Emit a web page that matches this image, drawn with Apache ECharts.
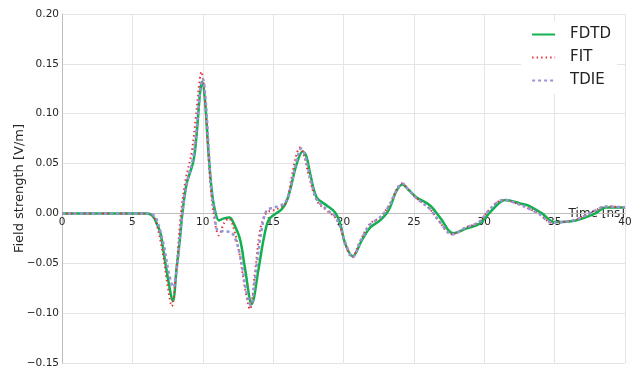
<!DOCTYPE html>
<html>
<head>
<meta charset="utf-8">
<script src="https://cdn.jsdelivr.net/npm/echarts@6/dist/echarts.min.js"></script>
<style>
  html, body { margin: 0; padding: 0; background: #fff; }
  #chart { width: 636px; height: 369px; }
</style>
</head>
<body>
<div id="chart"></div>
<script>
// Time axis ticks [ns] and field-strength ticks [V/m]
const xTicks = [0, 5, 10, 15, 20, 25, 30, 35, 40];
const yTicks = [-0.15, -0.10, -0.05, 0.00, 0.05, 0.10, 0.15, 0.20];

// FDTD solution
const fdtdT = [0, 6.0, 6.4, 6.73, 7.0, 7.2, 7.55, 7.87, 8.15, 8.39, 8.55, 8.86, 9.33, 9.57, 9.8, 9.95, 10.16, 10.4, 10.64, 10.87, 11.15, 11.5, 11.9, 12.2, 12.65, 13.0, 13.48, 13.95, 14.31, 14.66, 15.1, 15.6, 15.95, 16.2, 16.68, 17.1, 17.35, 17.63, 18.1, 18.81, 19.4, 19.76, 20.11, 20.66, 21.3, 21.9, 22.6, 23.2, 23.78, 24.2, 24.6, 25.2, 26.15, 26.9, 27.8, 28.76, 29.7, 30.4, 31.1, 31.5, 32.55, 33.1, 34.1, 35.0, 36.5, 37.9, 38.6, 40];
const fdtdV = [0, 0, -0.002, -0.010, -0.020, -0.037, -0.067, -0.088, -0.054, -0.024, 0.0, 0.030, 0.052, 0.080, 0.120, 0.132, 0.113, 0.063, 0.023, 0.003, -0.007, -0.005, -0.004, -0.010, -0.026, -0.055, -0.091, -0.057, -0.027, -0.007, -0.001, 0.004, 0.012, 0.023, 0.050, 0.062, 0.058, 0.040, 0.016, 0.008, 0.001, -0.010, -0.030, -0.043, -0.027, -0.014, -0.007, 0.003, 0.023, 0.029, 0.024, 0.016, 0.008, -0.005, -0.020, -0.015, -0.010, 0.001, 0.011, 0.0135, 0.010, 0.008, 0.0, -0.0087, -0.007, 0.0, 0.006, 0.006];

// FIT solution
const fitT = [0, 6.0, 6.3, 6.6, 7.1, 7.5, 7.8, 8.1, 8.45, 8.8, 9.2, 9.5, 9.75, 9.9, 10.1, 10.3, 10.6, 10.9, 11.15, 11.5, 11.85, 12.2, 12.6, 13.0, 13.35, 13.7, 14.07, 14.4, 14.7, 15.0, 15.5, 15.9, 16.3, 16.6, 16.9, 17.2, 17.5, 18.1, 18.8, 19.4, 19.8, 20.1, 20.6, 21.2, 21.9, 22.6, 23.3, 23.8, 24.15, 24.6, 25.2, 26.1, 26.8, 27.7, 28.7, 29.6, 30.2, 30.9, 31.4, 32.3, 33.0, 33.85, 34.8, 36.3, 37.2, 37.9, 38.6, 40];
const fitV = [0, 0, -0.001, -0.005, -0.035, -0.072, -0.093, -0.060, 0.0, 0.035, 0.060, 0.095, 0.130, 0.142, 0.125, 0.080, 0.020, -0.012, -0.022, -0.010, -0.005, -0.015, -0.040, -0.075, -0.096, -0.060, -0.017, -0.002, 0.002, 0.003, 0.006, 0.010, 0.035, 0.056, 0.066, 0.058, 0.040, 0.013, 0.003, -0.004, -0.015, -0.030, -0.044, -0.027, -0.010, -0.004, 0.010, 0.025, 0.030, 0.024, 0.015, 0.005, -0.008, -0.021, -0.014, -0.009, 0.001, 0.011, 0.0135, 0.010, 0.006, 0.0, -0.009, -0.007, -0.002, 0.003, 0.007, 0.006];

// TDIE solution
const tdieT = [0, 6.0, 6.4, 6.7, 7.2, 7.6, 7.9, 8.2, 8.55, 8.9, 9.3, 9.6, 9.85, 10.0, 10.2, 10.4, 10.6, 10.85, 11.05, 11.5, 12.0, 12.3, 12.7, 13.05, 13.4, 13.8, 14.2, 14.55, 15.1, 15.85, 16.3, 16.7, 17.0, 17.3, 17.6, 18.1, 18.8, 19.4, 19.8, 20.15, 20.65, 21.2, 21.9, 22.6, 23.3, 23.8, 24.2, 24.6, 25.2, 26.1, 26.8, 27.75, 28.7, 29.6, 30.2, 30.9, 31.4, 32.3, 33.0, 33.85, 34.8, 36.3, 37.2, 37.9, 38.6, 40];
const tdieV = [0, 0, -0.001, -0.005, -0.030, -0.060, -0.074, -0.050, 0.0, 0.032, 0.055, 0.090, 0.128, 0.135, 0.115, 0.070, 0.025, 0.0, -0.017, -0.018, -0.019, -0.025, -0.045, -0.075, -0.092, -0.055, -0.015, 0.003, 0.006, 0.011, 0.030, 0.055, 0.065, 0.056, 0.038, 0.014, 0.004, -0.003, -0.015, -0.030, -0.044, -0.028, -0.011, -0.004, 0.009, 0.024, 0.030, 0.024, 0.015, 0.005, -0.008, -0.021, -0.014, -0.009, 0.001, 0.011, 0.0135, 0.010, 0.006, 0.0, -0.009, -0.007, -0.002, 0.003, 0.007, 0.006];

const zip = (t, v) => t.map((x, i) => [x, v[i]]);
const FONT = 'DejaVu Sans';
const fmtY = v => (v < 0 ? '\u2212' : '') + Math.abs(v).toFixed(2);

// Plot area
const GRID = { left: 62, right: 11, top: 14, bottom: 6 };
const CH = 369;
const yMin = yTicks[0], yMax = yTicks[yTicks.length - 1];
// Lift the time axis (line + labels) from the bottom edge up to the zero level
const plotH = CH - GRID.top - GRID.bottom;
const zeroLift = -plotH * (0 - yMin) / (yMax - yMin);

const chart = echarts.init(document.getElementById('chart'), null, { renderer: 'canvas' });
chart.setOption({
  animation: false,
  backgroundColor: '#ffffff',
  grid: Object.assign({ containLabel: false, outerBoundsMode: 'none' }, GRID),
  legend: {
    orient: 'vertical',
    right: 19,
    top: 21,
    backgroundColor: '#ffffff',
    padding: [6, 6, 6, 10],
    itemWidth: 23,
    itemHeight: 14,
    itemGap: 8,
    itemStyle: { opacity: 0 },
    textStyle: { fontFamily: FONT, fontSize: 15, color: '#222', padding: [0, 0, 0, 10] },
    data: ['FDTD', 'FIT', 'TDIE']
  },
  xAxis: {
    type: 'value',
    position: 'bottom',
    offset: zeroLift,
    min: xTicks[0],
    max: xTicks[xTicks.length - 1],
    interval: xTicks[1] - xTicks[0],
    name: 'Time [ns]',
    nameLocation: 'end',
    nameGap: 0,
    nameMoveOverlap: false,
    nameTextStyle: { fontFamily: FONT, fontSize: 12, color: '#262626', align: 'right', verticalAlign: 'middle', padding: [0, 0, 6, 0] },
    axisLine: { onZero: false, lineStyle: { color: '#bdbdbd', width: 1 } },
    axisTick: { show: false },
    axisLabel: { fontFamily: FONT, fontSize: 10.5, color: '#262626', margin: 3 },
    splitLine: { show: true, lineStyle: { color: '#e4e4e8', width: 1 } }
  },
  yAxis: {
    type: 'value',
    min: yMin,
    max: yMax,
    interval: 0.05,
    name: 'Field strength [V/m]',
    nameLocation: 'middle',
    nameGap: 36,
    nameMoveOverlap: false,
    nameTextStyle: { fontFamily: FONT, fontSize: 13, color: '#262626' },
    axisLine: { show: true, lineStyle: { color: '#bdbdbd', width: 1 } },
    axisTick: { show: false },
    axisLabel: { fontFamily: FONT, fontSize: 10.5, color: '#262626', margin: 3, formatter: fmtY },
    splitLine: { show: true, lineStyle: { color: '#e4e4e8', width: 1 } }
  },
  series: [
    {
      name: 'FDTD', type: 'line', symbol: 'none', smooth: 0.35,
      data: zip(fdtdT, fdtdV),
      lineStyle: { color: '#12b04e', width: 2.5, type: 'solid' },
      itemStyle: { color: '#12b04e' }, z: 2
    },
    {
      name: 'FIT', type: 'line', symbol: 'none', smooth: 0.35,
      data: zip(fitT, fitV),
      lineStyle: { color: '#e8323c', width: 2, type: [1.5, 3] },
      itemStyle: { color: '#e8323c' }, z: 3
    },
    {
      name: 'TDIE', type: 'line', symbol: 'none', smooth: 0.35,
      data: zip(tdieT, tdieV),
      lineStyle: { color: '#9595d8', width: 2.5, type: [3, 3] },
      itemStyle: { color: '#9595d8' }, z: 4
    }
  ]
});
</script>
</body>
</html>
